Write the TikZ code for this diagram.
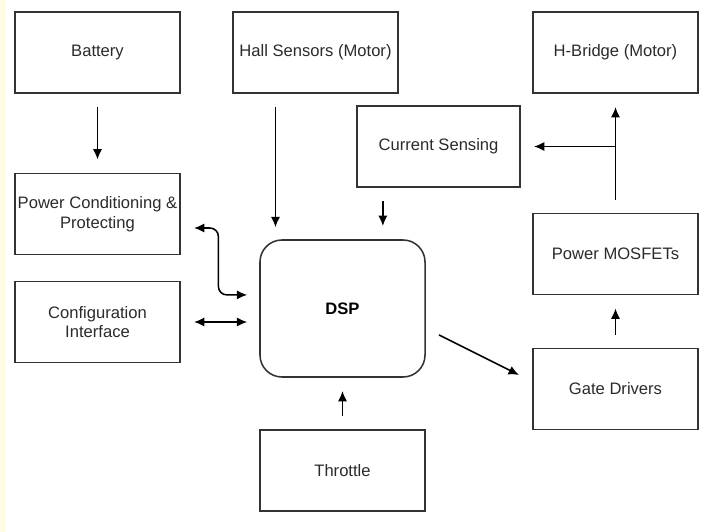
\documentclass[tikz,border=0pt]{standalone}
\usepackage{fontspec}
\setmainfont{Liberation Sans}
\usepackage{xcolor}
\usepackage{tikz}
\usetikzlibrary{arrows.meta,positioning,calc}
\definecolor{stripcol}{HTML}{FFFCE4}
\definecolor{textcol}{HTML}{2B2B2B}

\tikzset{
  blockbox/.style={draw=black!80,line width=1.1pt,inner sep=0pt,minimum width=4.125cm,
    minimum height=2.025cm,align=center,text=textcol,font=\fontsize{11.8}{14}\selectfont},
  dspbox/.style={blockbox,rounded corners=0.55cm,minimum height=3.425cm,font=\fontsize{11.8}{14}\selectfont\bfseries,text=black},
  link/.style={line width=1.1pt,>={Latex[length=2.6mm,width=2.3mm]},shorten <=0.33cm,shorten >=0.33cm}
}

\begin{document}
\begin{tikzpicture}[x=0.025cm,y=-0.025cm]
  % page frame and left strip
  \useasboundingbox (0,0) rectangle (711,532);
  \fill[white] (0,0) rectangle (711,532);
  \fill[stripcol] (0,0) rectangle (6,532);

  % blocks
  \node[blockbox] (battery) at (97.5,52.5) {Battery};
  \node[blockbox] (hall) at (315.5,52.5) {Hall Sensors (Motor)};
  \node[blockbox] (hbridge) at (615.5,52.5) {H-Bridge (Motor)};
  \node[blockbox,minimum width=4.075cm] (current) at (438.5,146.5) {Current Sensing};
  \node[blockbox] (power) at (97.5,214) {Power Conditioning \&\\Protecting};
  \node[blockbox] (mosfet) at (615.5,254) {Power MOSFETs};
  \node[dspbox] (dsp) at (342.5,308.5) {DSP};
  \node[blockbox] (config) at (97.5,322) {Configuration\\Interface};
  \node[blockbox] (gate) at (615.5,389) {Gate Drivers};
  \node[blockbox] (throttle) at (342.5,470.5) {Throttle};

  % connections
  \draw[link,->] (battery) -- (power);
  \draw[link,->,shorten >=0.3cm] ([xshift=-1cm]hall.south) -- ([xshift=-1cm]hall.south |- dsp.north);
  \draw[link,->] ([xshift=-1.39cm]current.south) -- ([xshift=-1.39cm]current.south |- dsp.north);
  \draw[link,->] (throttle.north) -- (throttle.north |- dsp.south);
  \draw[link,<->,shorten >=0.3cm] (config.east) -- (config.east -| dsp.west);
  \draw[link,<->,rounded corners=6pt,shorten <=0pt,shorten >=0pt]
    ([xshift=0.33cm,yshift=-0.35cm]power.east) -| ([xshift=-1.02cm,yshift=0.34cm]dsp.west)
    -- ([xshift=-0.3cm,yshift=0.34cm]dsp.west);
  \draw[link,->,shorten <=0pt,shorten >=0pt] ([xshift=0.33cm,yshift=-0.66cm]dsp.east)
    -- ([xshift=-0.33cm,yshift=0.35cm]gate.west);
  \draw[link,->] (gate) -- (mosfet);
  \draw[link,->] (mosfet) -- (hbridge);
  \coordinate (split) at (mosfet.north |- current.east);
  \draw[link,->,shorten <=0pt] (split) -- (current.east);
\end{tikzpicture}
\end{document}
